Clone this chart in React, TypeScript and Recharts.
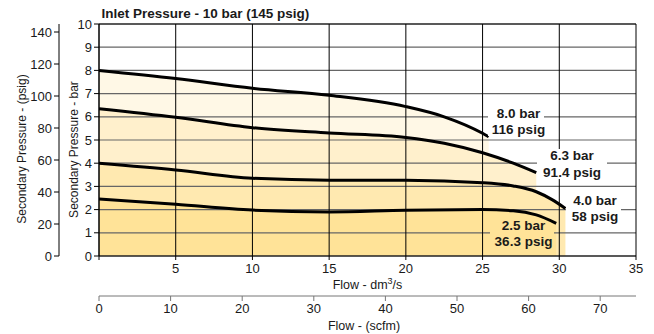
import { ComposedChart, Area, Line, XAxis, YAxis, CartesianGrid, ReferenceLine } from 'recharts'

const FONT = '"Liberation Sans", Arial, Helvetica, sans-serif'
const INK = '#1a1a1a'
const GRID_H = '#666666'

const FLOW_TICKS = [0, 5, 10, 15, 20, 25, 30, 35]
const SCFM_TICKS = [0, 10, 20, 30, 40, 50, 60, 70]
const BAR_TICKS = [0, 1, 2, 3, 4, 5, 6, 7, 8, 9, 10]
const PSIG_TICKS = [0, 20, 40, 60, 80, 100, 120, 140]

// flow dm3/s vs secondary pressure bar, one curve per set pressure
const FLOW_80 = [0, 5, 10, 15, 20, 22.5, 25, 25.4]
const BAR_80 = [8.0, 7.65, 7.23, 6.93, 6.44, 6.0, 5.29, 5.14]
const FLOW_63 = [0, 5, 10, 15, 20, 22.5, 25, 27, 28.5]
const BAR_63 = [6.35, 5.98, 5.53, 5.3, 5.11, 4.86, 4.45, 4.0, 3.59]
const FLOW_40 = [0, 5, 10, 15, 20, 25, 27, 28.5, 29.5, 30.4]
const BAR_40 = [4.0, 3.71, 3.35, 3.27, 3.27, 3.16, 3.02, 2.77, 2.44, 2.05]
const FLOW_25 = [0, 5, 10, 15, 20, 25, 27, 28.5, 29.8]
const BAR_25 = [2.46, 2.23, 1.98, 1.9, 1.97, 2.0, 1.95, 1.77, 1.41]

const SET_BAR = ['8.0 bar', '6.3 bar', '4.0 bar', '2.5 bar']
const SET_PSIG = ['116 psig', '91.4 psig', '58 psig', '36.3 psig']

const toSeries = (q: number[], p: number[]) => q.map((x, i) => ({ q: x, p: p[i] }))

const curves = [
  { key: 's80', data: toSeries(FLOW_80, BAR_80), fill: '#fff8e6' },
  { key: 's63', data: toSeries(FLOW_63, BAR_63), fill: '#fff0cc' },
  { key: 's40', data: toSeries(FLOW_40, BAR_40), fill: '#ffe9b0' },
  { key: 's25', data: toSeries(FLOW_25, BAR_25), fill: '#ffe398' },
]

// dummy rows so the scfm axis has something to scale
const scfmRows = SCFM_TICKS.map(s => ({ s }))

// label boxes next to curve ends (pixel layout, drawn in an overlay)
const boxes = [
  { x: 488, y: 110, w: 56, h: 26, cx: 518.5, y1: 118, y2: 133.5, bg: '#ffffff' },
  { x: 537, y: 149, w: 70, h: 30, cx: 572, y1: 160, y2: 176.5, bg: '#ffffff' },
  { x: 566, y: 191, w: 55, h: 32, cx: 595, y1: 204.5, y2: 220.5, bg: '#ffffff' },
  { x: 490, y: 226, w: 64, h: 14, cx: 523.5, y1: 230, y2: 246, bg: '#ffe398' },
]

const tick = { fill: INK, fontSize: 13, fontFamily: FONT }

export default function App() {
  return (
    <div style={{ position: 'relative', width: 654, height: 334 }}>
      <style>{'body{margin:0}'}</style>
      <ComposedChart
        width={654}
        height={334}
        margin={{ top: 24, right: 18, bottom: 0, left: 0 }}
        style={{ fontFamily: FONT }}
      >
        <XAxis
          xAxisId="flow"
          dataKey="q"
          type="number"
          domain={[0, 35]}
          ticks={FLOW_TICKS}
          interval={0}
          allowDataOverflow
          tickFormatter={(v: number) => (v === 0 ? '' : String(v))}
          height={40}
          tickSize={4}
          tickMargin={4}
          axisLine={{ stroke: '#000' }}
          tickLine={{ stroke: '#000' }}
          tick={tick}
        />
        <XAxis
          xAxisId="scfm"
          dataKey="s"
          type="number"
          domain={[0, 75]}
          ticks={SCFM_TICKS}
          interval={0}
          allowDataOverflow
          height={38}
          tickSize={5}
          tickMargin={3}
          axisLine={{ stroke: '#777' }}
          tickLine={{ stroke: '#777' }}
          tick={tick}
        />
        <YAxis
          yAxisId="bar"
          type="number"
          domain={[0, 10]}
          ticks={BAR_TICKS}
          interval={0}
          allowDataOverflow
          width={40}
          tickSize={5}
          tickMargin={2}
          axisLine={{ stroke: '#000' }}
          tickLine={{ stroke: '#000' }}
          tick={tick}
        />
        <YAxis
          yAxisId="psig"
          type="number"
          domain={[0, 145]}
          ticks={PSIG_TICKS}
          interval={0}
          allowDataOverflow
          width={59}
          tickSize={5}
          tickMargin={2}
          axisLine={{ stroke: '#000' }}
          tickLine={{ stroke: '#000' }}
          tick={tick}
        />

        {curves.map(c => (
          <Area
            key={`a-${c.key}`}
            data={c.data}
            dataKey="p"
            xAxisId="flow"
            yAxisId="bar"
            type="monotone"
            fill={c.fill}
            fillOpacity={1}
            stroke="none"
            isAnimationActive={false}
          />
        ))}

        <CartesianGrid xAxisId="flow" yAxisId="bar" vertical={false} stroke={GRID_H} strokeWidth={1.2} zIndex={150} />
        <CartesianGrid xAxisId="flow" yAxisId="bar" horizontal={false} stroke="#000" zIndex={150} />
        <ReferenceLine xAxisId="flow" yAxisId="bar" y={10} stroke="#000" zIndex={150} />

        <Line
          data={scfmRows}
          dataKey="p"
          xAxisId="scfm"
          yAxisId="psig"
          stroke="none"
          dot={false}
          legendType="none"
          isAnimationActive={false}
        />

        {curves.map(c => (
          <Line
            key={`l-${c.key}`}
            data={c.data}
            dataKey="p"
            xAxisId="flow"
            yAxisId="bar"
            type="monotone"
            stroke="#000"
            strokeWidth={3}
            dot={false}
            isAnimationActive={false}
          />
        ))}

        <text x={101.5} y={18.3} fontFamily={FONT} fontSize={13.5} fontWeight="bold" fill={INK}>
          Inlet Pressure - 10 bar (145 psig)
        </text>
        <text x={367.5} y={288.5} textAnchor="middle" fontFamily={FONT} fontSize={12.5} fill={INK}>
          Flow - dm<tspan dy={-5} fontSize={9}>3</tspan><tspan dy={5}>/s</tspan>
        </text>
        <text x={364} y={330} textAnchor="middle" fontFamily={FONT} fontSize={12.5} fill={INK}>
          Flow - (scfm)
        </text>
        <text
          x={78}
          y={149.5}
          textAnchor="middle"
          fontFamily={FONT}
          fontSize={12}
          fill={INK}
          transform="rotate(-90 78 149.5)"
        >
          Secondary Pressure - bar
        </text>
        <text
          x={26}
          y={149}
          textAnchor="middle"
          fontFamily={FONT}
          fontSize={12}
          fill={INK}
          transform="rotate(-90 26 149)"
        >
          Secondary Pressure - (psig)
        </text>
      </ComposedChart>

      <svg
        width={654}
        height={334}
        style={{ position: 'absolute', left: 0, top: 0, pointerEvents: 'none' }}
      >
        {boxes.map((b, i) => (
          <g key={`b-${i}`}>
            <rect x={b.x} y={b.y} width={b.w} height={b.h} fill={b.bg} />
            <text textAnchor="middle" fontFamily={FONT} fontSize={13.5} fontWeight="bold" fill={INK}>
              <tspan x={b.cx} y={b.y1}>{SET_BAR[i]}</tspan>
              <tspan x={b.cx} y={b.y2}>{SET_PSIG[i]}</tspan>
            </text>
          </g>
        ))}
      </svg>
    </div>
  )
}
